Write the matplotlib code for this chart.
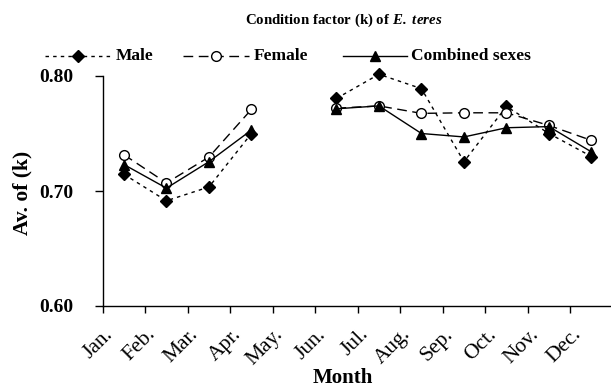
import numpy as np
import matplotlib
matplotlib.use("Agg")
import matplotlib.pyplot as plt
from matplotlib.lines import Line2D
import matplotlib.transforms as mtransforms

plt.rcParams['font.family'] = ['Liberation Serif', 'DejaVu Serif']
plt.rcParams['mathtext.fontset'] = 'custom'
plt.rcParams['mathtext.rm'] = 'Liberation Serif:bold'
plt.rcParams['mathtext.bfit'] = 'Liberation Serif:italic:bold'
plt.rcParams['mathtext.it'] = 'Liberation Serif:italic:bold'

months = ["Jan.", "Feb.", "Mar.", "Apr.", "May.", "Jun.", "Jul.", "Aug.",
          "Sep.", "Oct.", "Nov.", "Dec."]
male = [0.7145, 0.6915, 0.7035, 0.750, np.nan, 0.7805, 0.8015, 0.789,
        0.7255, 0.7735, 0.750, 0.730]
female = [0.7315, 0.7070, 0.7295, 0.771, np.nan, 0.7720, 0.7740, 0.7675,
          0.7680, 0.7680, 0.7570, 0.744]
combined = [0.7230, 0.7025, 0.7255, 0.753, np.nan, 0.7715, 0.7740, 0.7500,
            0.7470, 0.7550, 0.7560, 0.734]
yticks = [0.60, 0.70, 0.80]
labels = ["Male", "Female", "Combined sexes"]

W, H = 611, 389
fig = plt.figure(figsize=(W / 100, H / 100), dpi=100)
ax = fig.add_axes([102.7 / W, 1 - 306 / H, 510 / W, 230 / H])

styles = [
    dict(color='black', lw=1.0, ls=(0, (2.5, 3)), marker='D', ms=6,
         mfc='black', mec='black'),
    dict(color='black', lw=1.0, ls=(0, (7, 4)), marker='o', ms=7,
         mfc='white', mec='black', mew=1.0),
    dict(color='black', lw=1.0, ls='-', marker='^', ms=7.5,
         mfc='black', mec='black'),
]

x = np.arange(1, 13)
for i, ys in enumerate([male, female, combined]):
    ax.plot(x, ys, clip_on=False, zorder=3 + i, **styles[i])

ax.set_xlim(0.5, 12.5)
ax.set_ylim(0.60, 0.80)
ax.set_yticks(yticks)
ax.set_yticklabels([f"{v:.2f}" for v in yticks], fontsize=14, fontweight='bold')
ax.set_xticks(np.arange(0.5, 12.5, 1.0))
ax.set_xticklabels([])
ax.tick_params(axis='x', which='major', length=5, direction='out', width=1)
ax.tick_params(axis='y', length=6, direction='out', width=1, pad=15)
for s in ['top', 'right']:
    ax.spines[s].set_visible(False)
for s in ['left', 'bottom']:
    ax.spines[s].set_linewidth(1.0)

# month labels (rotated, centred on categories, shifted like the original)
offset = mtransforms.ScaledTranslation(-20 / 100, -19 / 100, fig.dpi_scale_trans)
trans = ax.get_xaxis_transform() + offset
for xi, m in zip(x, months):
    ax.text(xi, 0, m, transform=trans, rotation=45, ha='right', va='top',
            rotation_mode='anchor', fontsize=15.5, clip_on=False)

fig.text(22 / W, 1 - 193 / H, "Av. of (k)", rotation=90, ha='center',
         va='center', fontsize=15.5, fontweight='bold')
fig.text(343 / W, 1 - 378 / H, "Month", ha='center', va='center',
         fontsize=15, fontweight='bold')
fig.text(344 / W, 1 - 20 / H, r"Condition factor (k) of $\mathbfit{E.\ teres}$",
         ha='center', va='center', fontsize=10.7, fontweight='bold')

# legend drawn in figure pixel coordinates
leg_y = 1 - 56 / H
leg_lines = [(45, 111), (183, 249), (343, 407)]
leg_text_x = [116, 254, 411]
for i, (x0, x1) in enumerate(leg_lines):
    st = dict(styles[i])
    mk = st.pop('marker')
    ms = st.pop('ms')
    mfc = st.pop('mfc')
    mec = st.pop('mec')
    mew = st.pop('mew', 1.0)
    fig.add_artist(Line2D([x0 / W, x1 / W], [leg_y, leg_y],
                          transform=fig.transFigure, **st))
    fig.add_artist(Line2D([(x0 + x1) / 2 / W], [leg_y], transform=fig.transFigure,
                          marker=mk, ms=ms, mfc=mfc, mec=mec, mew=mew, ls='none'))
    fig.text(leg_text_x[i] / W, leg_y, labels[i], ha='left', va='center',
             fontsize=12.5, fontweight='bold')

fig.savefig("out.png", dpi=100)
